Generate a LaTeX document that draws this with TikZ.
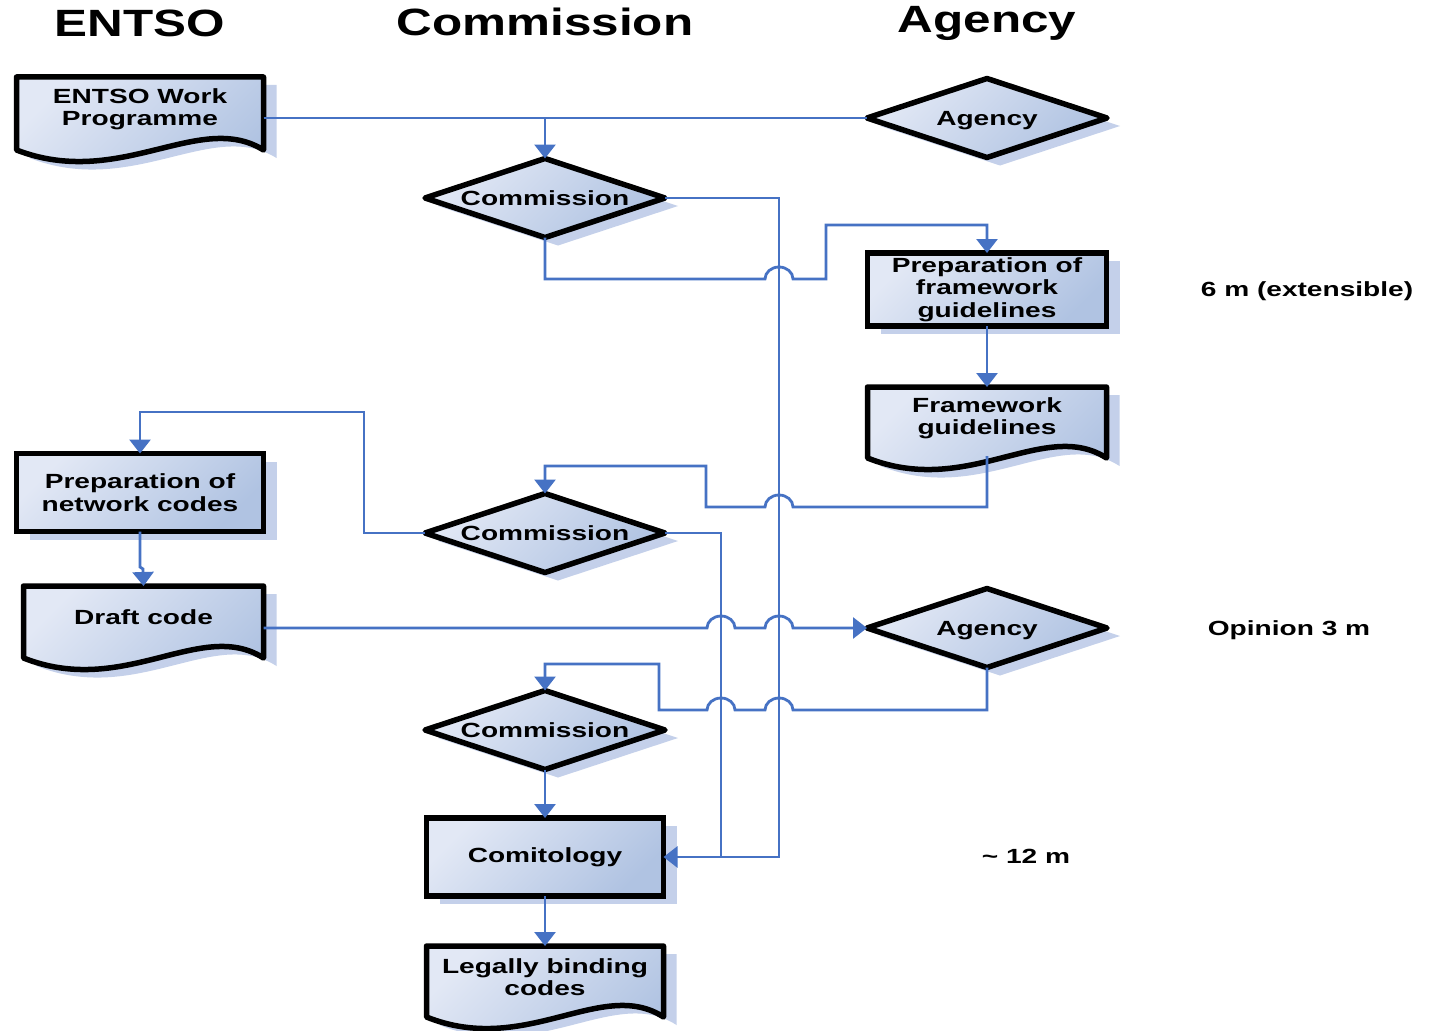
\documentclass[tikz,border=0pt]{standalone}
\usepackage{fontspec}
\setmainfont{Liberation Sans}
\newfontfamily\boxfont[FakeStretch=1.37]{Liberation Sans}
\newfontfamily\headfont[FakeStretch=1.3]{Liberation Sans}
\usetikzlibrary{shapes.geometric,arrows.meta,calc,backgrounds}
\definecolor{connc}{RGB}{70,114,196}
\definecolor{shadowc}{RGB}{196,208,234}
\definecolor{fillA}{RGB}{226,232,245}
\definecolor{fillB}{RGB}{176,195,226}
\tikzset{
  shapefill/.style={top color=fillA, bottom color=fillB, shading angle=45},
  txt/.style={font=\boxfont\bfseries\fontsize{20.5}{22.5}\selectfont, align=center, text=black},
  procbox/.style={rectangle, draw=black, line width=5.5pt, shapefill, txt, inner sep=0pt, outer sep=0pt},
  decision/.style={diamond, aspect=3, draw=black, line width=5.5pt, line join=round, shapefill, txt, inner sep=0pt, outer sep=0pt, minimum width=240pt, minimum height=79pt, text height=15pt, text depth=1pt},
  docbox/.style={rectangle, txt, inner sep=0pt, outer sep=0pt},
  head/.style={font=\headfont\bfseries\fontsize{38}{40}\selectfont, anchor=base},
  note/.style={font=\boxfont\bfseries\fontsize{20.5}{22.5}\selectfont, anchor=base},
  conn/.style={draw=connc, line width=2.8pt, line join=miter},
  arr/.style={conn, -{Triangle[width=21pt,length=14pt]}},
}
\newcommand{\docpath}[1]{($(#1.north west)+(0,-2.5)$) -- ($(#1.north east)+(0,-2.5)$) -- ($(#1.south east)+(0,11.5)$)
  .. controls ($(#1.south east)!0.26!(#1.south west)+(0,-28.5)$) and ($(#1.south east)!0.58!(#1.south west)+(0,51.5)$) .. ($(#1.south west)+(0,11.5)$) -- cycle}
\newcommand{\docshape}[1]{%
  \begin{scope}[on background layer]
    \fill[shadowc, transform canvas={xshift=13pt, yshift=-8pt}] \docpath{#1};
    \shade[shapefill] \docpath{#1};
    \draw[black, line width=5.5pt, line join=round] \docpath{#1};
  \end{scope}}
\newcommand{\rectshadow}[1]{%
  \begin{scope}[on background layer]
    \fill[shadowc] ($(#1.north west)+(13,8)$) rectangle ($(#1.south east)+(13,8)$);
  \end{scope}}
\newcommand{\diamshadow}[1]{%
  \begin{scope}[on background layer]
    \fill[shadowc] ($(#1.north)+(13,8)$) -- ($(#1.east)+(13,8)$) -- ($(#1.south)+(13,8)$) -- ($(#1.west)+(13,8)$) -- cycle;
  \end{scope}}
\newcommand{\jr}{arc[start angle=180, end angle=0, x radius=14pt, y radius=12pt]}
\newcommand{\jl}{arc[start angle=0, end angle=180, x radius=14pt, y radius=12pt]}
\begin{document}
\begin{tikzpicture}[x=1pt, y=-1pt]
\useasboundingbox (0,0) rectangle (1431,1030);
\begin{scope}[on background layer]
\fill[white] (0,0) rectangle (1431,1030);
\end{scope}
% headers
\node[head] (hE) at (140,37) {ENTSO};
\node[head] (hC) at (545,36) {Commission};
\node[head] (hA) at (987,33) {Agency};
% nodes
\node[docbox, minimum width=247pt, minimum height=59pt] (wp) at (140,109) {ENTSO Work\\Programme};
\node[decision] (ag1) at (987,118) {Agency};
\node[decision] (c1) at (545,198) {Commission};
\node[procbox, minimum width=239pt, minimum height=73pt] (pfg) at (987,289.5) {Preparation of\\framework\\guidelines};
\node[docbox, minimum width=239pt, minimum height=57pt] (fg) at (987,418) {Framework\\guidelines};
\node[procbox, minimum width=247pt, minimum height=78pt] (pnc) at (140,492.5) {Preparation of\\network codes};
\node[decision] (c2) at (545,533) {Commission};
\node[docbox, minimum width=240pt, minimum height=58pt] (dc) at (143.5,617.5) {Draft code};
\node[decision] (ag2) at (987,628) {Agency};
\node[decision] (c3) at (545,730) {Commission};
\node[procbox, minimum width=237pt, minimum height=78pt] (com) at (545,857) {Comitology};
\node[docbox, minimum width=237pt, minimum height=57pt] (lbc) at (545,977) {Legally binding\\codes};
% notes
\node[note] (n1) at (1307,296) {6 m (extensible)};
\node[note] (n2) at (1289,635) {Opinion 3 m};
\node[note] (n3) at (1026,863) {\textasciitilde{} 12 m};
% shapes behind
\docshape{wp}\docshape{fg}\docshape{dc}\docshape{lbc}
\rectshadow{pfg}\rectshadow{pnc}\rectshadow{com}
\diamshadow{ag1}\diamshadow{c1}\diamshadow{c2}\diamshadow{ag2}\diamshadow{c3}
% routing coordinates
\coordinate (vA) at (779,198);
\coordinate (vB) at (721,533);
% connectors
\draw[conn] (wp.east |- ag1.west) -- (ag1.west);
\draw[arr] (c1.north |- ag1.west) -- (c1.north);
\draw[arr] (c1.east) -- (vA) -- (vA |- com.east) -- (com.east);
\draw[conn] (c2.east) -- (vB) -- (vB |- com.east);
\draw[arr] (c1.south) -- (545,279) -- (765,279) \jr -- (826,279) -- (826,225) -- (pfg.north |- 0,225) -- (pfg.north);
\draw[arr] (pfg.south) -- ($(fg.north)+(0,-2.5)$);
\draw[arr] ($(fg.south)+(0,9.5)$) -- (987,507) -- (793,507) \jl -- (706,507) -- (706,466) -- (c2.north |- 0,466) -- (c2.north);
\draw[arr] (c2.west) -- (364,533) -- (364,412) -- (pnc.north |- 0,412) -- (pnc.north);
\draw[arr] (pnc.south) -- (140,567) -- (143,569) -- ($(dc.north)+(0,-2.5)$);
\draw[arr] (dc.east |- ag2.west) -- (707,628) \jr -- (765,628) \jr -- (ag2.west);
\draw[arr] (ag2.south) -- (987,710) -- (793,710) \jl -- (735,710) \jl -- (659,710) -- (659,664) -- (c3.north |- 0,664) -- (c3.north);
\draw[arr] (c3.south) -- (com.north);
\draw[arr] (com.south) -- ($(lbc.north)+(0,-2.5)$);
\end{tikzpicture}
\end{document}
